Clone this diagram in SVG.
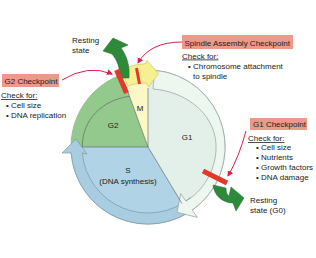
<svg xmlns="http://www.w3.org/2000/svg" width="316" height="258" viewBox="0 0 316 258">
<style>
text{font-family:"Liberation Sans",Arial,sans-serif;font-size:8px;fill:#222}
.lbl{fill:#ec998a}
.bar{stroke:#e2392a;stroke-width:5;stroke-linecap:butt}
.call{fill:none;stroke:#d91f4c;stroke-width:1}
.div{stroke:#5a5a5a;stroke-width:0.6;fill:none}
.go{fill:#2c8a3a;stroke:#226b2e;stroke-width:0.5}
</style>
<defs>
<marker id="ah" markerUnits="userSpaceOnUse" markerWidth="7" markerHeight="7" refX="5" refY="3" orient="auto">
<path d="M0,0 L6,3 L0,6 Z" fill="#d91f4c"/>
</marker>
</defs>
<rect width="316" height="258" fill="#fff"/>
<g id="cycle">
<circle cx="148" cy="147" r="77" fill="#e3f0ea" stroke="#8fa09c" stroke-width="0.8"/>
<path id="S-sector" d="M148,147 L187.7,213 A77,77 0 0 1 71,147 Z" fill="#b0d3e5"/>
<path id="G2-sector" d="M148,147 L71,147 A77,77 0 0 1 121.7,74.6 Z" fill="#93c98c"/>
<path id="M-sector" d="M148,147 L121.7,74.6 A77,77 0 0 1 148,70 Z" fill="#fbf7c6"/>
<path id="S-arrow" d="M197.5,206 A77,77 0 0 1 71.2,153 L62,153 L76,139 L87,154 L82.3,153 A66,66 0 0 0 190.4,197.6 Z" fill="#a8cde1" stroke="#6f8fa0" stroke-width="0.6"/>
<path id="G1-arrow" d="M154.7,70.3 A77,77 0 0 1 192.2,210.1 L197.3,217.4 L177.1,212.3 L180.7,193.7 L185.9,201.1 C202,192 215,172 216,150 C218,118 190,92 153,89 Z" fill="#eef6f0" stroke="#8fa09c" stroke-width="0.7"/>
<path d="M148,147 L82.3,147 M148,147 L125,84 M148,147 L148,88 M148,147 L182,203.6" class="div"/>
<path d="M82.3,147 C82,120 102,100 129.5,96.3" class="div"/>
<path id="M-arrow" d="M121,70 Q133,64 146,63.5 L147,60.5 L158.5,73.5 L148.5,87 L146.5,83 Q137,82 128,86 Z" fill="#f6f091" stroke="#cbbd55" stroke-width="0.6"/>
<text x="140" y="111" text-anchor="middle">M</text>
<text x="113" y="128" text-anchor="middle">G2</text>
<text x="187" y="140" text-anchor="middle">G1</text>
<text x="128" y="172.5" text-anchor="middle">S</text>
<text x="128" y="183.5" text-anchor="middle">(DNA synthesis)</text>
</g>
<g id="resting-top">
<path class="go" d="M120,78 C120,67 117,60 112,54 L103,51 L113,38 L128,45 L121,48 C127,56 130,66 129,78 Z"/>
<text x="72" y="43">Resting</text>
<text x="72" y="53">state</text>
</g>
<g id="resting-g0">
<path class="go" d="M213,185 L226,188 C226,192 227,195 229,196 L231,187 L244,198 L236,211 L233,203 C222,203 214,195 213,185 Z"/>
<text x="250" y="203">Resting</text>
<text x="250" y="213">state (G0)</text>
</g>
<g id="checkpoint-bars">
<line class="bar" x1="116.5" y1="70" x2="126.5" y2="93"/>
<line class="bar" x1="136.5" y1="68" x2="139.5" y2="84" style="stroke-width:3"/>
<line class="bar" x1="203" y1="171" x2="227" y2="183"/>
</g>
<g id="g2-checkpoint">
<rect class="lbl" x="2" y="74" width="57" height="13"/>
<text x="4.5" y="84">G2 Checkpoint</text>
<text x="1" y="98" text-decoration="underline">Check for:</text>
<text x="6" y="108">• Cell size</text>
<text x="6" y="118">• DNA replication</text>
</g>
<g id="spindle-checkpoint">
<rect class="lbl" x="182" y="35" width="111" height="14"/>
<text x="184.5" y="45.5">Spindle Assembly Checkpoint</text>
<text x="182" y="58.5" text-decoration="underline">Check for:</text>
<text x="188" y="68.5">• Chromosome attachment</text>
<text x="193" y="78.5">to spindle</text>
</g>
<g id="g1-checkpoint">
<rect class="lbl" x="250" y="118" width="57" height="12"/>
<text x="253" y="127">G1 Checkpoint</text>
<text x="248" y="141" text-decoration="underline">Check for:</text>
<text x="256" y="149.5">• Cell size</text>
<text x="256" y="159.5">• Nutrients</text>
<text x="256" y="169.5">• Growth factors</text>
<text x="256" y="179.5">• DNA damage</text>
</g>
<g id="connectors">
<path class="call" d="M62,80 Q88,64 112,74" marker-end="url(#ah)"/>
<path class="call" d="M182,42 Q150,42 138,63" marker-end="url(#ah)"/>
<path class="call" d="M246,131 Q239,157 228,176" marker-end="url(#ah)"/>
</g>
</svg>
